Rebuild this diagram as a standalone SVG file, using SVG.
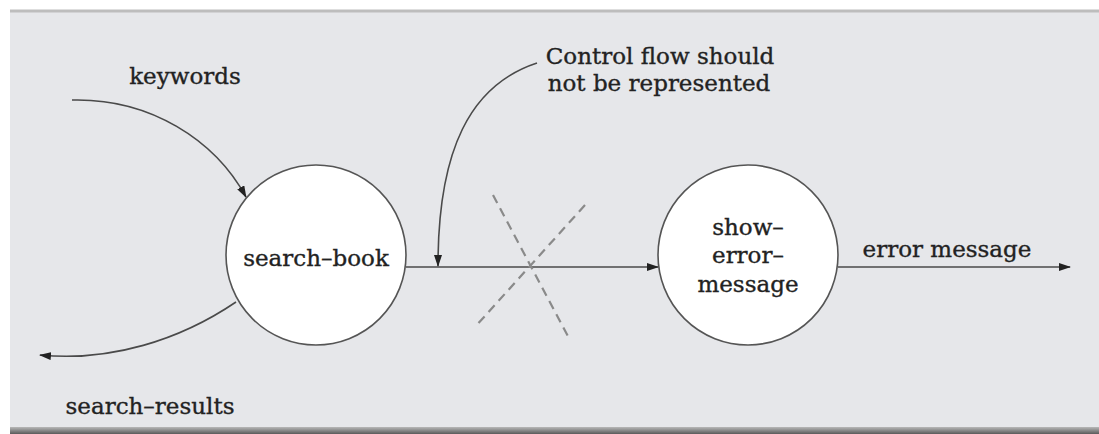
<svg xmlns="http://www.w3.org/2000/svg" width="1099" height="434" viewBox="0 0 1099 434">
  <defs>
    <style>
      .lbl { font-family: "DejaVu Serif", "Liberation Serif", serif; font-size: 23px; fill: #222222; stroke: #222222; stroke-width: 0.35; }
      .node circle { fill: #ffffff; stroke: #555555; stroke-width: 1.6; }
      .flow { fill: none; stroke: #4a4a4a; stroke-width: 1.6; }
      .cross { fill: none; stroke: #8a8a8a; stroke-width: 2.2; stroke-dasharray: 9 6; }
    </style>
    <marker id="arrow" viewBox="0 0 12 8" refX="11" refY="4" markerWidth="12" markerHeight="8" markerUnits="userSpaceOnUse" orient="auto">
      <path d="M0,0 L12,4 L0,8 Z" fill="#222222"/>
    </marker>
    <linearGradient id="bottomEdge" x1="0" y1="0" x2="0" y2="1">
      <stop offset="0" stop-color="#b8b8b8"/>
      <stop offset="1" stop-color="#5a5a5a"/>
    </linearGradient>
  </defs>

  <!-- page and panel -->
  <rect x="0" y="0" width="1099" height="434" fill="#ffffff"/>
  <rect x="10" y="10" width="1089" height="418" fill="#e6e7ea"/>
  <rect x="10" y="9.5" width="1089" height="3" fill="#bdbdbd"/>
  <rect x="10" y="427" width="1089" height="7" fill="url(#bottomEdge)"/>

  <!-- connectors -->
  <g id="connectors">
    <path id="keywords-flow" class="flow" d="M72,100 C150,98 215,140 246,197" marker-end="url(#arrow)"/>
    <path id="results-flow" class="flow" d="M236,302 C180,340 110,362 40,355" marker-end="url(#arrow)"/>
    <path id="control-flow" class="flow" d="M406,267 L658,267" marker-end="url(#arrow)"/>
    <path id="error-flow" class="flow" d="M838,267 L1070,267" marker-end="url(#arrow)"/>
    <path id="note-pointer" class="flow" d="M537,63 C470,85 438,150 438,266" marker-end="url(#arrow)"/>
    <!-- dashed cross over the control flow -->
    <line class="cross" x1="493" y1="195" x2="570" y2="340"/>
    <line class="cross" x1="585" y1="205" x2="475" y2="327"/>
  </g>

  <!-- processes -->
  <g id="search-book" class="node">
    <circle cx="316" cy="255" r="90"/>
    <text class="lbl" x="316" y="266" text-anchor="middle">search–book</text>
  </g>
  <g id="show-error-message" class="node">
    <circle cx="748" cy="255" r="90"/>
    <text class="lbl" x="748" y="235" text-anchor="middle">show–</text>
    <text class="lbl" x="748" y="263" text-anchor="middle">error–</text>
    <text class="lbl" x="748" y="292" text-anchor="middle">message</text>
  </g>

  <!-- data labels -->
  <g id="labels">
    <text class="lbl" x="185" y="84" text-anchor="middle">keywords</text>
    <text class="lbl" x="150" y="414" text-anchor="middle">search–results</text>
    <text class="lbl" x="947" y="257" text-anchor="middle">error message</text>
    <text class="lbl" x="660" y="64" text-anchor="middle">Control flow should</text>
    <text class="lbl" x="659" y="91" text-anchor="middle">not be represented</text>
  </g>
</svg>
